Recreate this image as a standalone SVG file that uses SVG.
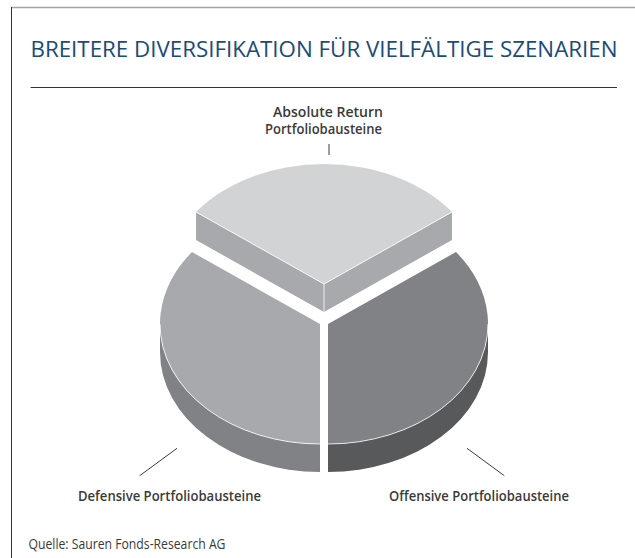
<svg xmlns="http://www.w3.org/2000/svg" width="635" height="558" viewBox="0 0 635 558">
  <style>
    .title { font-family: "Open Sans", "Liberation Sans", sans-serif; font-size: 21px; font-weight: 500; fill: #1b4b78; }
    .label { font-family: "Open Sans", "Liberation Sans", sans-serif; font-size: 14px; font-weight: 600; fill: #3a3a3a; }
    .source { font-family: "Open Sans", "Liberation Sans", sans-serif; font-size: 14px; font-weight: 400; fill: #3a3a3a; }
    .lead { stroke: #3a3a3a; stroke-width: 1; fill: none; }
    .hl { stroke: #ffffff; stroke-width: 0.8; fill: none; stroke-linejoin: round; }
  </style>

  <!-- frame -->
  <rect x="0" y="0" width="635" height="558" fill="#ffffff"/>
  <line x1="11" y1="7.5" x2="635" y2="7.5" stroke="#a3a3a3" stroke-width="1.3"/>
  <line x1="11.5" y1="7" x2="11.5" y2="558" stroke="#333333" stroke-width="1"/>

  <!-- heading -->
  <text class="title" x="30.5" y="56.7" textLength="587" lengthAdjust="spacingAndGlyphs">BREITERE DIVERSIFIKATION FÜR VIELFÄLTIGE SZENARIEN</text>
  <line x1="30.5" y1="87.5" x2="617" y2="87.5" stroke="#333333" stroke-width="1"/>

  <!-- Absolute Return slice (raised) -->
  <g id="absolute-return">
    <polygon points="196,212 324,284 324,312 196,240" fill="#a7a9ac"/>
    <polygon points="324,284 452,212 452,240 324,312" fill="#a7a9ac"/>
    <path d="M324,284 L196,212 A160,120 0 0,1 452,212 Z" fill="#d1d3d4"/>
    <path class="hl" d="M196,212 L324,284 L452,212 M324,284 L324,312"/>
  </g>

  <!-- Defensive slice -->
  <g id="defensive">
    <path d="M160,324 A160,120 0 0,0 320,444 L320,472 A160,120 0 0,1 160,352 Z" fill="#808285"/>
    <path d="M320,324 L192,252 A160,120 0 0,0 320,444 Z" fill="#a7a9ac"/>
    <path class="hl" d="M160,324 A160,120 0 0,0 320,444"/>
  </g>

  <!-- Offensive slice -->
  <g id="offensive">
    <path d="M488,324 A160,120 0 0,1 328,444 L328,472 A160,120 0 0,0 488,352 Z" fill="#58595b"/>
    <path d="M328,324 L456,252 A160,120 0 0,1 328,444 Z" fill="#808285"/>
    <path class="hl" d="M488,324 A160,120 0 0,1 328,444"/>
  </g>

  <!-- label leaders -->
  <g id="connectors">
    <line class="lead" x1="329" y1="144" x2="329" y2="155"/>
    <line class="lead" x1="177" y1="448.3" x2="139.7" y2="475.7"/>
    <line class="lead" x1="467" y1="448.3" x2="504.3" y2="475.7"/>
  </g>

  <!-- labels -->
  <g id="label-absolute-return">
    <text class="label" x="273" y="116.7" textLength="110" lengthAdjust="spacingAndGlyphs">Absolute Return</text>
    <text class="label" x="265" y="134" textLength="117" lengthAdjust="spacingAndGlyphs">Portfoliobausteine</text>
  </g>
  <g id="label-defensive">
    <text class="label" x="78" y="500.5" textLength="183" lengthAdjust="spacingAndGlyphs">Defensive Portfoliobausteine</text>
  </g>
  <g id="label-offensive">
    <text class="label" x="389" y="500.5" textLength="180" lengthAdjust="spacingAndGlyphs">Offensive Portfoliobausteine</text>
  </g>

  <text class="source" x="28.5" y="549" textLength="197" lengthAdjust="spacingAndGlyphs">Quelle: Sauren Fonds-Research AG</text>
</svg>
